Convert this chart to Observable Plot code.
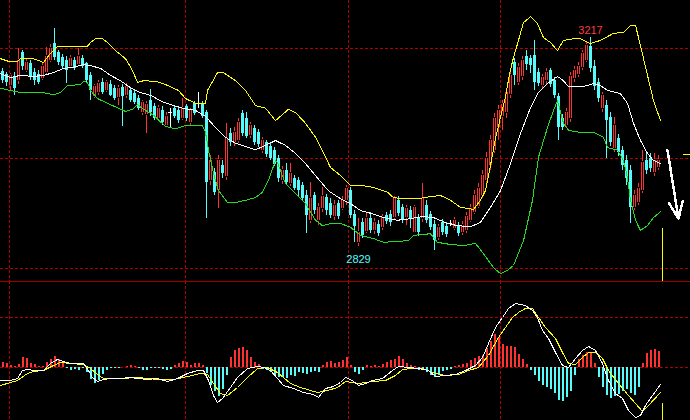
<!DOCTYPE html>
<html><head><meta charset="utf-8">
<script src="https://cdn.jsdelivr.net/npm/d3@7"></script>
<script src="https://cdn.jsdelivr.net/npm/@observablehq/plot@0.6"></script>
<style>
html,body{margin:0;padding:0;background:#000;overflow:hidden;}
#chart svg{display:block;shape-rendering:crispEdges;}
</style></head><body><div id="chart"></div>
<script>
// ---- daily candles (index order) ----
const open = [3154,3149,3128,3145,3137,3189,3156,3169,3152,3149,
3141,3152,3175,3206,3189,3180,3175,3163,3175,3167,
3178,3169,3147,3108,3115,3134,3119,3130,3123,3106,
3124,3110,3119,3113,3104,3078,3074,3100,3089,3067,
3082,
3054,3078,3086,3082,3067,3089,3060,3095,3095,3093,
3078,2952,2967,2933,2980,2959,3039,3022,3026,3076,
3067,3035,3048,3041,3008,3022,3015,3008,2993,2952,
2970,2946,2956,2952,2943,2924,2878,2924,2878,2900,2920,
2909,2885,2909,2900,2915,2933,2889,2837,2874,2857,
2881,2859,2870,2865,2887,2889,2883,2915,2902,2883,
2896,2855,2883,2881,2905,2889,2870,2846,2874,2866,
2872,2863,2868,2855,2859,2878,2892,2904,2924,2952,
2980,3008,3050,3071,3078,3111,3171,3134,3145,3182,
3178,3184,3152,3128,3137,3156,3137,3108,3067,3054,
3067,3141,3149,3162,3175,3201,3163,3134,3086,3091,
3069,3011,3030,3008,2989,2970,2902,2911,2933,2989,
2993,2967,2976];
const close = [3137,3134,3147,3123,3175,3163,3171,3145,3137,3134,
3163,3182,3197,3180,3171,3163,3156,3178,3160,3182,
3163,3137,3119,3126,3132,3115,3134,3110,3104,3123,
3108,3126,3100,3097,3086,3097,3093,3078,3067,3086,
3060,
3071,3078,3071,3063,3086,3067,3082,3076,3095,3071,
2948,2989,2930,2989,2965,3030,3022,3041,3060,3039,
3034,3054,3022,3019,3026,3000,2993,2981,2956,2970,
2948,2965,2937,2933,2918,2887,2918,2896,2902,2922,2896,
2887,2905,2885,2915,2937,2887,2866,2855,2850,2881,
2859,2874,2853,2883,2876,2874,2918,2891,2878,2900,
2881,2902,2855,2918,2878,2865,2840,2865,2855,2852,
2872,2878,2853,2868,2885,2900,2924,2937,2961,2993,
3026,3067,3082,3093,3115,3147,3147,3162,3175,3167,
3165,3134,3132,3143,3152,3130,3110,3050,3050,3078,
3145,3156,3163,3188,3202,3160,3126,3104,3110,3063,
3022,3054,3004,2980,2956,2902,2924,2937,2985,2970,
2974,2989,2989];
const high = [3160,3152,3150,3152,3197,3193,3178,3175,3160,3156,
3171,3199,3204,3234,3193,3186,3182,3184,3180,3197,
3184,3171,3152,3130,3137,3141,3137,3137,3128,3128,
3130,3132,3124,3119,3110,3100,3099,3121,3095,3091,
3089,
3078,3086,3089,3087,3104,3093,3086,3099,3115,3099,
3082,2998,2974,2998,2989,3058,3048,3050,3067,3082,
3078,3060,3054,3047,3032,3026,3021,3013,2998,2978,
2983,2983,2961,2957,2948,2933,2948,2930,2909,2939,2926,
2918,2915,2915,2922,2943,2939,2896,2881,2881,2892,
2892,2881,2878,2889,2892,2896,2922,2922,2907,2905,
2904,2905,2889,2946,2915,2894,2878,2870,2879,2874,
2878,2883,2874,2876,2892,2907,2933,2946,2970,3004,
3035,3076,3091,3100,3123,3156,3178,3169,3182,3193,
3184,3212,3160,3149,3160,3160,3143,3113,3074,3086,
3152,3163,3171,3193,3208,3217,3175,3141,3115,3100,
3078,3069,3037,3015,2998,2980,2933,2946,3008,3004,
3002,3002,2998];
const low = [3132,3126,3119,3110,3130,3156,3152,3137,3128,3130,
3137,3149,3171,3175,3165,3160,3132,3160,3156,3163,
3160,3134,3100,3104,3110,3111,3115,3108,3100,3091,
3052,3104,3097,3093,3082,3073,3039,3071,3063,3063,
3054,
3050,3050,3067,3058,3063,3061,3054,3073,3086,3067,
2881,2943,2924,2900,2956,2952,3015,3015,3021,3034,
3030,3030,3017,3013,3002,2995,2989,2978,2948,2944,
2943,2941,2933,2922,2915,2853,2872,2889,2868,2892,2887,
2881,2878,2879,2896,2905,2881,2837,2829,2844,2853,
2853,2852,2848,2859,2870,2866,2878,2885,2872,2868,
2863,2853,2848,2874,2872,2859,2822,2840,2850,2846,
2866,2859,2848,2850,2853,2874,2889,2900,2918,2946,
2970,3002,3026,3045,3067,3104,3128,3128,3137,3156,
3150,3119,3126,3123,3130,3124,3104,3026,3045,3048,
3060,3134,3143,3156,3171,3152,3119,3097,3078,2993,
3015,3004,2996,2970,2943,2872,2896,2905,2928,2963,
2967,2959,2970];

// ---- Bollinger bands: [bar index, price] ----
const bollUpper = [[-0.5,3178],[1.5,3173],[3.75,3173],[4.5,3178],[7.75,3178],[10.25,3171],[12,3188],[13.75,3201],[16.25,3201],[21.25,3201],[22,3208],[23.25,3215],[25,3215],[26.25,3208],[28.25,3193],[30.75,3178],[32.5,3156],[33.75,3134],[35.25,3137],[38.25,3136],[40.75,3130],[44,3119],[45.75,3104],[48.25,3095],[50.75,3095],[51.25,3119],[53.75,3152],[55.25,3152],[58.25,3137],[60.75,3119],[63.25,3091],[65.75,3086],[68.25,3063],[71.5,3084],[73.25,3078],[75.75,3058],[78.25,3032],[80.75,2995],[82,2976],[84.5,2961],[87,2943],[89.5,2943],[92.75,2939],[96.25,2930],[97.75,2920],[100.25,2918],[103.75,2918],[107,2922],[109.5,2924],[112,2915],[114.5,2902],[117.75,2898],[119.5,2915],[120.75,2933],[122,2980],[123.25,3030],[124.5,3069],[125.75,3106],[126.75,3150],[127.75,3180],[129,3212],[130.25,3245],[132,3256],[133.75,3243],[135.25,3217],[137,3208],[138.75,3193],[140.25,3212],[142.75,3215],[144.5,3215],[147,3206],[149.5,3212],[152.75,3225],[155.25,3227],[157,3240],[158.25,3240],[159.5,3202],[161.25,3147],[162.75,3100],[164.5,3063]];
const bollMid = [[-0.5,3150],[2,3143],[4.5,3147],[7.75,3145],[10.25,3147],[12.75,3152],[15.25,3160],[17.75,3162],[20.25,3167],[22,3165],[24.5,3160],[27,3147],[29.5,3137],[32,3124],[34.5,3115],[37,3110],[40.25,3097],[45,3086],[48.25,3082],[50.75,3071],[53.25,3050],[55.75,3032],[58.25,3021],[60.75,3015],[63.25,3009],[65.75,3017],[68.25,3026],[70.75,3017],[73.25,3002],[75.75,2983],[78.25,2961],[80.75,2939],[82,2930],[84.5,2918],[87,2909],[89.5,2896],[92,2891],[95.25,2883],[98.75,2878],[102,2881],[105.25,2885],[107.75,2883],[111.25,2872],[113.75,2868],[117,2866],[119.5,2874],[122,2902],[124.5,2933],[127,2983],[129.5,3039],[132,3087],[133.75,3113],[136.25,3132],[138.75,3145],[140.25,3137],[141.5,3126],[144.5,3126],[146.25,3128],[147.75,3132],[149.5,3128],[151.25,3119],[154.5,3113],[156.25,3095],[157.75,3058],[159.5,3026],[161.25,3002],[162.75,2989],[164.5,2983]];
const bollLower = [[-0.5,3123],[2,3119],[4.5,3115],[10.25,3115],[12.75,3111],[14.5,3115],[16.25,3128],[19.5,3130],[20.25,3136],[21.25,3134],[22,3119],[23.75,3104],[26.25,3095],[28.75,3087],[30.75,3080],[32.5,3084],[33.75,3093],[35.25,3084],[37.75,3073],[40.75,3052],[43.25,3048],[45.75,3054],[50,3054],[50.75,3041],[51.5,3008],[52.75,2965],[54,2933],[56.25,2911],[58.25,2911],[60.75,2915],[63.25,2920],[65,2930],[66.5,2952],[68.25,2989],[68.75,2985],[69.5,2970],[70.75,2946],[73.25,2928],[75.75,2909],[78.25,2878],[80,2868],[82,2872],[84.5,2872],[87,2865],[89.5,2850],[92.75,2844],[95.25,2837],[98.75,2839],[101.5,2840],[102.75,2850],[107,2853],[108.75,2837],[112,2833],[115.25,2831],[118.25,2835],[120.25,2816],[122.75,2790],[124.5,2779],[126.25,2785],[127.75,2794],[130.25,2840],[132.5,2915],[134,2995],[136.25,3050],[137.75,3082],[138.75,3100],[140.25,3058],[141.5,3045],[144.5,3041],[147.75,3041],[150.25,3032],[151.25,3013],[153.75,3008],[155.25,2989],[156.25,2957],[157,2915],[158.25,2878],[159.5,2859],[161.25,2868],[162.75,2883],[164.5,2894]];

// ---- MACD ----
const macdHist = [5,4,2,1,3,10,9,4,3,1,
1,5,8,11,8,4,-1,-3,-2,-3,
-1,-5,-12,-16,-13,-7,-3,-1,-1,-1,
0,1,2,1,-1,-3,-3,-1,-1,-1,
-2,-3,-2,2,4,6,5,2,4,4,
2,-6,-18,-24,-29,-22,-8,10,17,19,
20,17,10,5,3,-2,-3,-5,-9,-10,
-10,-11,-8,-9,-5,-6,-7,-5,-4,-5,
2,5,6,4,5,7,
10,2,-5,-7,-3,2,1,2,1,3,
5,7,8,11,8,4,2,1,-3,-2,
-5,-8,-10,-8,-4,-3,-2,1,2,3,
4,7,9,11,12,19,26,33,30,23,
21,21,20,13,8,3,-3,-8,-14,-18,
-20,-22,-26,-33,-34,-30,-24,-8,8,12,
15,14,4,-10,-20,-28,-31,-29,-27,-24,
-22,-26,-28,-20,4,14,17,18,16];
const difPts = [[-0.5,-13],[2,-13],[3.75,-11],[5,-3],[6.25,-2],[7.75,-3],[10.25,-3],[12,4],[13.75,8],[15.25,6],[17,4],[20.25,4],[21.5,-3],[22.5,-10],[23.75,-14],[25.25,-12],[27,-11],[29.5,-11],[32,-10],[33.75,-11],[36.25,-12],[38.75,-11],[41.25,-14],[43.75,-11],[46.25,-6],[48.75,-3],[50.25,-3],[51.5,-13],[52.75,-28],[53.75,-35],[55,-31],[57,-20],[58.75,-10],[61.25,-1],[63.75,1],[65.25,0],[67,-3],[68.75,-11],[70.25,-18],[72.75,-21],[75.25,-25],[77.75,-27],[79,-30],[80.75,-21],[82.75,-19],[84.5,-15],[85.75,-10],[87.5,-13],[89,-18],[90.75,-16],[92.5,-13],[95,-11],[97.5,-3],[99,1],[101.5,0],[104,-1],[106.5,-3],[108.25,-9],[110.75,-8],[113.25,-7],[115.75,-3],[118.25,2],[120,10],[121.5,24],[123.25,40],[125,50],[126.5,59],[128.25,64],[130.75,62],[132.5,57],[133.75,50],[135,37],[136.5,29],[138.25,15],[140,2],[141.5,0],[143.25,9],[145,17],[146.5,21],[148.25,17],[150,4],[151.5,-13],[153.25,-26],[155,-31],[156.5,-43],[158.25,-50],[159.5,-48],[160.75,-38],[162.5,-28],[164.5,-17]];
const deaPts = [[-0.5,-18],[3.75,-13],[6.25,-6],[7.75,-4],[10.25,-3],[12.75,2],[14.5,5],[17,4],[20.25,3],[22,-1],[23.75,-7],[25.25,-11],[29.5,-11],[33.75,-10],[38.75,-12],[42.75,-12],[46.25,-9],[49.5,-6],[51.25,-7],[52.75,-16],[54.5,-26],[56.25,-28],[58.75,-20],[61.25,-10],[63.75,-1],[66.25,0],[68.75,-5],[72,-16],[74.5,-20],[78.75,-25],[81.25,-23],[83.75,-20],[85.75,-14],[89,-16],[92.5,-14],[95.75,-13],[98.25,-8],[100,-2],[102.5,-1],[105,-1],[107.5,-5],[110.75,-8],[114,-7],[116.5,-3],[119,0],[121.5,12],[124,30],[125.75,40],[127.5,50],[129,55],[130.75,59],[132.5,59],[134,50],[135.75,40],[138.25,29],[140,15],[141.5,4],[143.25,3],[145,10],[146.5,15],[148.25,15],[150,9],[151.5,-3],[154,-16],[156.5,-28],[158.25,-36],[160,-44],[161.5,-38],[164.5,-25]];

// ---- grid & annotations ----
const monthLines = [1.83, 45.75, 86.6, 124.6];
const priceGrid = [3197, 2993, 2788];
const macdGrid = [50, 0];
const highIdx = [147];
const lowIdx = [89];
const arrowSeg = [{x1: 166.25, y1: 3008, x2: 169, y2: 2881}];
const lastBarIdx = 165;
const lastBarTop = 2863;
const lastMacdTop = -36;
const priceTick = [{p: 3000, x1: 170.25, x2: 172}];

// ---- drawing ----
const xDomain = [-0.5, 172];
const priceDomain = [2764.3, 3286];
const macdDomain = [-53, 86];
const RED = "#ff3232", CYAN = "#54fcfc", GRID = "#b00000", YEL = "#ffff00";

const candles = open.map((o, i) => ({i, o, h: high[i], l: low[i], c: close[i]}));
const col = d => d.c > d.o ? RED : d.c < d.o ? CYAN : "#ffffff";
const ups = candles.filter(d => d.c > d.o);
const downs = candles.filter(d => d.c < d.o);
const dojis = candles.filter(d => d.c === d.o);

const main = Plot.plot({
  width: 690, height: 281, margin: 0,
  x: {domain: xDomain, axis: null},
  y: {domain: priceDomain, axis: null},
  style: {background: "#000", overflow: "visible"},
  marks: [
    Plot.ruleY(priceGrid, {stroke: GRID, strokeDasharray: "3,2"}),
    Plot.ruleX(monthLines, {stroke: GRID, strokeDasharray: "3,2"}),
    Plot.ruleX(candles, {x: "i", y1: "l", y2: "h", stroke: col}),
    Plot.ruleX(downs, {x: "i", y1: "o", y2: "c", stroke: CYAN, strokeWidth: 3}),
    Plot.ruleX(ups, {x: "i", y1: "o", y2: "c", stroke: RED, strokeWidth: 3}),
    Plot.ruleX(ups, {x: "i", y1: "o", y2: "c", stroke: "#000", strokeWidth: 1, insetTop: 1, insetBottom: 1}),
    Plot.ruleY(dojis, {y: "o", x1: d => d.i - 0.4, x2: d => d.i + 0.4, stroke: "#ffffff"}),
    Plot.line(bollLower, {x: d => d[0], y: d => d[1], stroke: "#22dd22", strokeWidth: 1}),
    Plot.line(bollMid, {x: d => d[0], y: d => d[1], stroke: "#ffffff", strokeWidth: 1}),
    Plot.line(bollUpper, {x: d => d[0], y: d => d[1], stroke: YEL, strokeWidth: 1}),
    Plot.text(highIdx, {x: d => d, y: d => high[d], text: d => String(high[d]), fill: "#ff3c3c", dy: -7, fontSize: 11, fontFamily: "Liberation Sans"}),
    Plot.text(lowIdx, {x: d => d, y: d => low[d], text: d => String(low[d]), fill: CYAN, dy: 13, fontSize: 11, fontFamily: "Liberation Sans"}),
    Plot.ruleX([lastBarIdx], {y1: lastBarTop, y2: priceDomain[0], stroke: YEL}),
    Plot.ruleY(priceTick, {y: "p", x1: "x1", x2: "x2", stroke: YEL, strokeWidth: 1.5}),
    Plot.arrow(arrowSeg, {x1: "x1", y1: "y1", x2: "x2", y2: "y2", stroke: "#ffffff", strokeWidth: 2.5, headLength: 11, headAngle: 45})
  ]
});

const hist = macdHist.map((v, i) => ({i, v}));
const lower = Plot.plot({
  width: 690, height: 139, margin: 0,
  x: {domain: xDomain, axis: null},
  y: {domain: macdDomain, axis: null},
  style: {background: "#000", overflow: "visible"},
  marks: [
    Plot.ruleY(macdGrid, {stroke: GRID, strokeDasharray: "3,2"}),
    Plot.ruleX(monthLines, {stroke: GRID, strokeDasharray: "3,2"}),
    Plot.ruleY([macdDomain[1]], {stroke: "#a00000"}),
    Plot.ruleX(hist, {x: "i", y1: 0, y2: "v", stroke: d => d.v >= 0 ? RED : CYAN, strokeWidth: 2}),
    Plot.line(deaPts, {x: d => d[0], y: d => d[1], stroke: YEL, strokeWidth: 1}),
    Plot.line(difPts, {x: d => d[0], y: d => d[1], stroke: "#ffffff", strokeWidth: 1}),
    Plot.ruleX([lastBarIdx], {y1: lastMacdTop, y2: macdDomain[0], stroke: YEL})
  ]
});

const root = document.getElementById("chart");
root.append(main, lower);
</script>
</body></html>
